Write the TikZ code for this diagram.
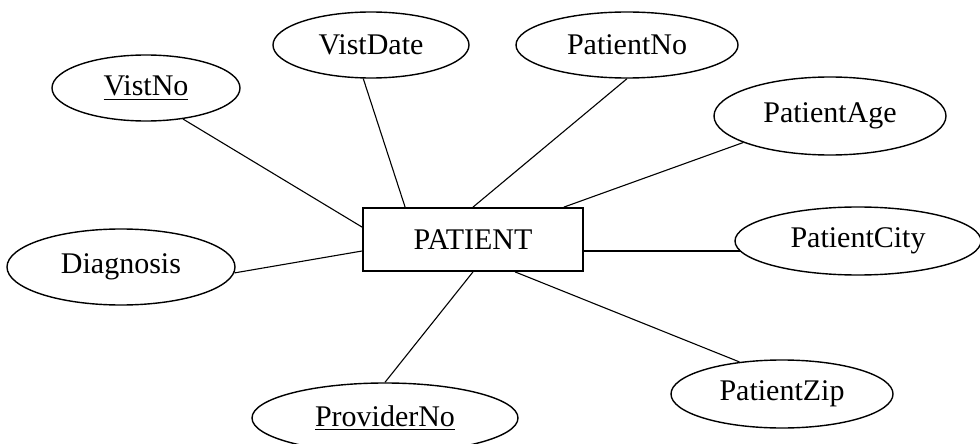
\documentclass[tikz,border=0pt]{standalone}
\usepackage{fontspec}
\setmainfont{Liberation Serif}
\usetikzlibrary{shapes.geometric}

\tikzset{
  attr/.style args={#1 and #2}{ellipse, draw, line width=0.7pt, inner sep=0pt,
    minimum width=#1*1pt, minimum height=#2*1pt},
  entity/.style={rectangle, draw, line width=0.9pt, inner sep=0pt,
    minimum width=110pt, minimum height=31.5pt},
  link/.style={line width=0.55pt}
}

\begin{document}
\begin{tikzpicture}[x=0.5pt, y=-0.5pt, font=\fontsize{15pt}{18pt}\selectfont]
  \useasboundingbox (0,0) rectangle (980,444);

  % entity
  \node[entity] (P) at (473,239.5) {PATIENT};

  % attributes (sizes in pt: 2*rx/2, 2*ry/2)
  \node[attr={94 and 33}]   (vno)   at (146,88)  {\underline{VistNo}};
  \node[attr={98 and 33}]   (vdate) at (371,45)  {VistDate};
  \node[attr={111 and 33}]  (pno)   at (627,45)  {PatientNo};
  \node[attr={116 and 39}]  (page)  at (830,116) {PatientAge};
  \node[attr={123 and 34}]  (pcity) at (858,241) {PatientCity};
  \node[attr={114 and 38}]  (diag)  at (121,267) {Diagnosis};
  \node[attr={133 and 35}]  (prov)  at (385,418) {\underline{ProviderNo}};
  \node[attr={111 and 34}]  (pzip)  at (782,394) {PatientZip};

  % connectors
  \draw[link] (vno.-40)    -- ([yshift=-10pt]P.north west);
  \draw[link] (vdate.-103.6) -- ([xshift=21.5pt]P.north west);
  \draw[link] (pno.-90)    -- (P.north);
  \draw[link] (page.-163.6) -- ([xshift=-10pt]P.north east);
  \coordinate (ce) at ([yshift=-5.75pt]P.east);
  \draw[link] (ce) -- (ce -| pcity.-175.2);
  \draw[link] (diag.-3)    -- ([yshift=-5.75pt]P.west);
  \draw[link] (prov.90)    -- (P.south);
  \draw[link] (pzip.143.1) -- ([xshift=76.5pt]P.south west);
\end{tikzpicture}
\end{document}
